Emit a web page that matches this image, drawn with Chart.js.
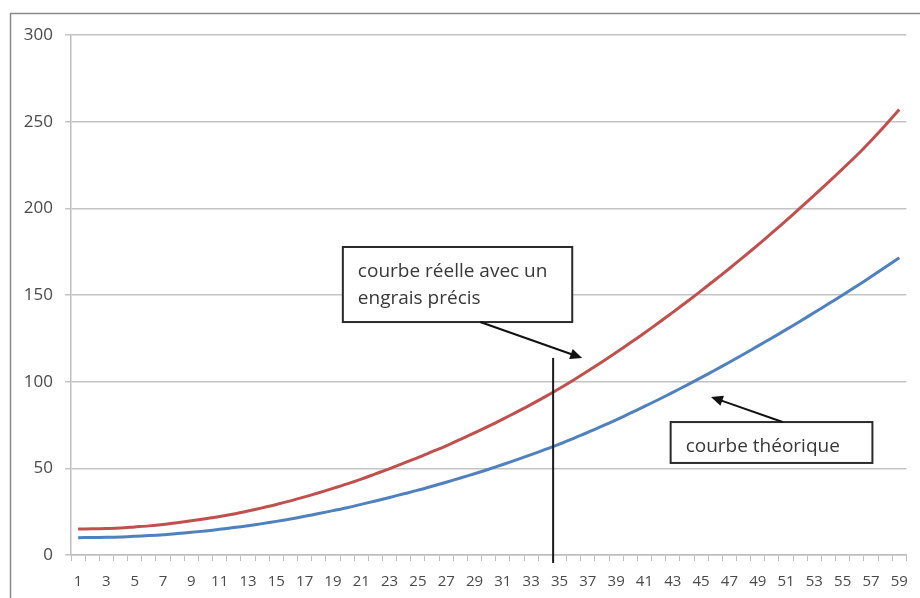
<!DOCTYPE html>
<html>
<head>
<meta charset="utf-8">
<script src="https://cdn.jsdelivr.net/npm/chart.js@4"></script>
<style>
  html, body { margin: 0; padding: 0; background: #fff; }
  #wrap { width: 920px; height: 598px; }
</style>
</head>
<body>
<div id="wrap"><canvas id="growthChart"></canvas></div>
<script>
// jours 1..59
const days = [];
for (let d = 1; d <= 59; d++) days.push(String(d));

const theoretical = [
  10.0, 10.1, 10.2, 10.4, 10.8, 11.2, 11.7, 12.4, 13.1, 13.9,
  14.8, 15.8, 16.9, 18.1, 19.4, 20.8, 22.3, 23.9, 25.6, 27.3,
  29.2, 31.2, 33.2, 35.3, 37.4, 39.7, 42.0, 44.4, 46.9, 49.5,
  52.2, 55.0, 57.9, 60.9, 64.0, 67.3, 70.7, 74.3, 78.0, 81.8,
  85.7, 89.7, 93.8, 98.0, 102.3, 106.7, 111.2, 115.8, 120.5, 125.2,
  130.0, 134.9, 139.9, 144.9, 150.0, 155.2, 160.5, 166.0, 171.5
];

const actual = [
  15.0, 15.1, 15.3, 15.6, 16.2, 16.8, 17.6, 18.6, 19.7, 20.9,
  22.2, 23.7, 25.4, 27.2, 29.1, 31.2, 33.5, 35.9, 38.4, 41.0,
  43.8, 46.8, 49.8, 53.0, 56.2, 59.6, 63.0, 66.7, 70.4, 74.3,
  78.4, 82.6, 86.9, 91.4, 96.1, 101.0, 106.1, 111.4, 116.8, 122.4,
  128.1, 134.0, 140.0, 146.1, 152.4, 158.8, 165.3, 172.0, 178.8, 185.8,
  192.9, 200.2, 207.6, 215.1, 222.8, 230.6, 239.0, 247.8, 257.0
];

const yTicks = [0, 50, 100, 150, 200, 250, 300];

// callouts, placed in data space (x = category index, y = value)
const callouts = {
  marker: { x: 33.55, y1: 113.7, y2: -4.6 },
  real: {
    box: { x1: 18.7, x2: 34.9, y1: 177.7, y2: 134.4 },
    lines: ['courbe réelle avec un', 'engrais précis'],
    arrow: { x1: 28.4, y1: 134.4, x2: 35.6, y2: 113.7 }
  },
  theory: {
    box: { x1: 41.85, x2: 56.1, y1: 76.7, y2: 53.1 },
    lines: ['courbe théorique'],
    arrow: { x1: 49.76, y1: 76.7, x2: 44.7, y2: 91.2 }
  }
};

const textFont = '"Open Sans", "Liberation Sans", sans-serif';

function drawArrow(ctx, x1, y1, x2, y2) {
  const ang = Math.atan2(y2 - y1, x2 - x1);
  const head = 13, spread = 0.42;
  ctx.beginPath();
  ctx.moveTo(x1, y1);
  ctx.lineTo(x2 - Math.cos(ang) * head * 0.8, y2 - Math.sin(ang) * head * 0.8);
  ctx.stroke();
  ctx.beginPath();
  ctx.moveTo(x2, y2);
  ctx.lineTo(x2 - head * Math.cos(ang - spread), y2 - head * Math.sin(ang - spread));
  ctx.lineTo(x2 - head * Math.cos(ang + spread), y2 - head * Math.sin(ang + spread));
  ctx.closePath();
  ctx.fill();
}

const framePlugin = {
  id: 'frame',
  beforeDraw(chart) {
    const ctx = chart.ctx;
    ctx.save();
    ctx.fillStyle = '#ffffff';
    ctx.fillRect(0, 0, chart.width, chart.height);
    ctx.strokeStyle = '#8a8a8a';
    ctx.lineWidth = 1.5;
    ctx.strokeRect(10.5, 13.5, chart.width + 20, chart.height + 20);
    ctx.restore();
  }
};

const calloutPlugin = {
  id: 'callouts',
  afterDatasetsDraw(chart) {
    const ctx = chart.ctx;
    const xs = chart.scales.x, ys = chart.scales.y;
    const px = v => xs.getPixelForValue(v);
    const py = v => ys.getPixelForValue(v);
    ctx.save();
    ctx.strokeStyle = '#1a1a1a';
    ctx.fillStyle = '#1a1a1a';
    ctx.lineWidth = 2;

    const m = callouts.marker;
    ctx.beginPath();
    ctx.moveTo(px(m.x), py(m.y1));
    ctx.lineTo(px(m.x), py(m.y2));
    ctx.stroke();

    [callouts.real, callouts.theory].forEach(c => {
      const bx = px(c.box.x1), by = py(c.box.y1);
      const bw = px(c.box.x2) - bx, bh = py(c.box.y2) - by;
      ctx.fillStyle = '#ffffff';
      ctx.fillRect(bx, by, bw, bh);
      ctx.strokeStyle = '#2a2a2a';
      ctx.strokeRect(bx, by, bw, bh);

      ctx.fillStyle = '#383838';
      ctx.font = '19px ' + textFont;
      ctx.textBaseline = 'alphabetic';
      ctx.textAlign = 'left';
      const lineH = 27;
      c.lines.forEach((t, i) => ctx.fillText(t, bx + 15, by + 30 + i * lineH));

      ctx.strokeStyle = '#111111';
      ctx.fillStyle = '#111111';
      drawArrow(ctx, px(c.arrow.x1), py(c.arrow.y1), px(c.arrow.x2), py(c.arrow.y2));
    });
    ctx.restore();
  }
};

new Chart(document.getElementById('growthChart').getContext('2d'), {
  type: 'line',
  data: {
    labels: days,
    datasets: [
      {
        label: 'courbe réelle',
        data: actual,
        borderColor: '#c0504d',
        borderWidth: 3,
        pointRadius: 0,
        tension: 0.3,
        fill: false
      },
      {
        label: 'courbe théorique',
        data: theoretical,
        borderColor: '#4f81bd',
        borderWidth: 3,
        pointRadius: 0,
        tension: 0.3,
        fill: false
      }
    ]
  },
  options: {
    responsive: true,
    maintainAspectRatio: false,
    animation: false,
    layout: { padding: { top: 35, right: 13, left: 0, bottom: 0 } },
    plugins: {
      legend: { display: false },
      tooltip: { enabled: false }
    },
    scales: {
      x: {
        offset: true,
        grid: {
          offset: true,
          drawOnChartArea: false,
          drawTicks: true,
          tickLength: 6,
          color: '#bdbdbd',
          lineWidth: 1
        },
        border: { color: '#bdbdbd', width: 1.5 },
        ticks: {
          autoSkip: false,
          maxRotation: 0,
          padding: 12,
          color: '#4a4a4a',
          font: { family: textFont, size: 15 },
          callback: function (val, i) { return i % 2 === 0 ? days[i] : ''; }
        },
        afterFit(scale) { scale.height = 43; }
      },
      y: {
        min: 0,
        max: 300,
        afterBuildTicks(scale) { scale.ticks = yTicks.map(v => ({ value: v })); },
        grid: {
          color: '#c4c4c4',
          lineWidth: 1.5,
          tickLength: 6
        },
        border: { color: '#bdbdbd', width: 1.5 },
        ticks: {
          padding: 12,
          color: '#4a4a4a',
          font: { family: textFont, size: 17 }
        },
        afterFit(scale) { scale.width = 71; }
      }
    }
  },
  plugins: [framePlugin, calloutPlugin]
});
</script>
</body>
</html>
